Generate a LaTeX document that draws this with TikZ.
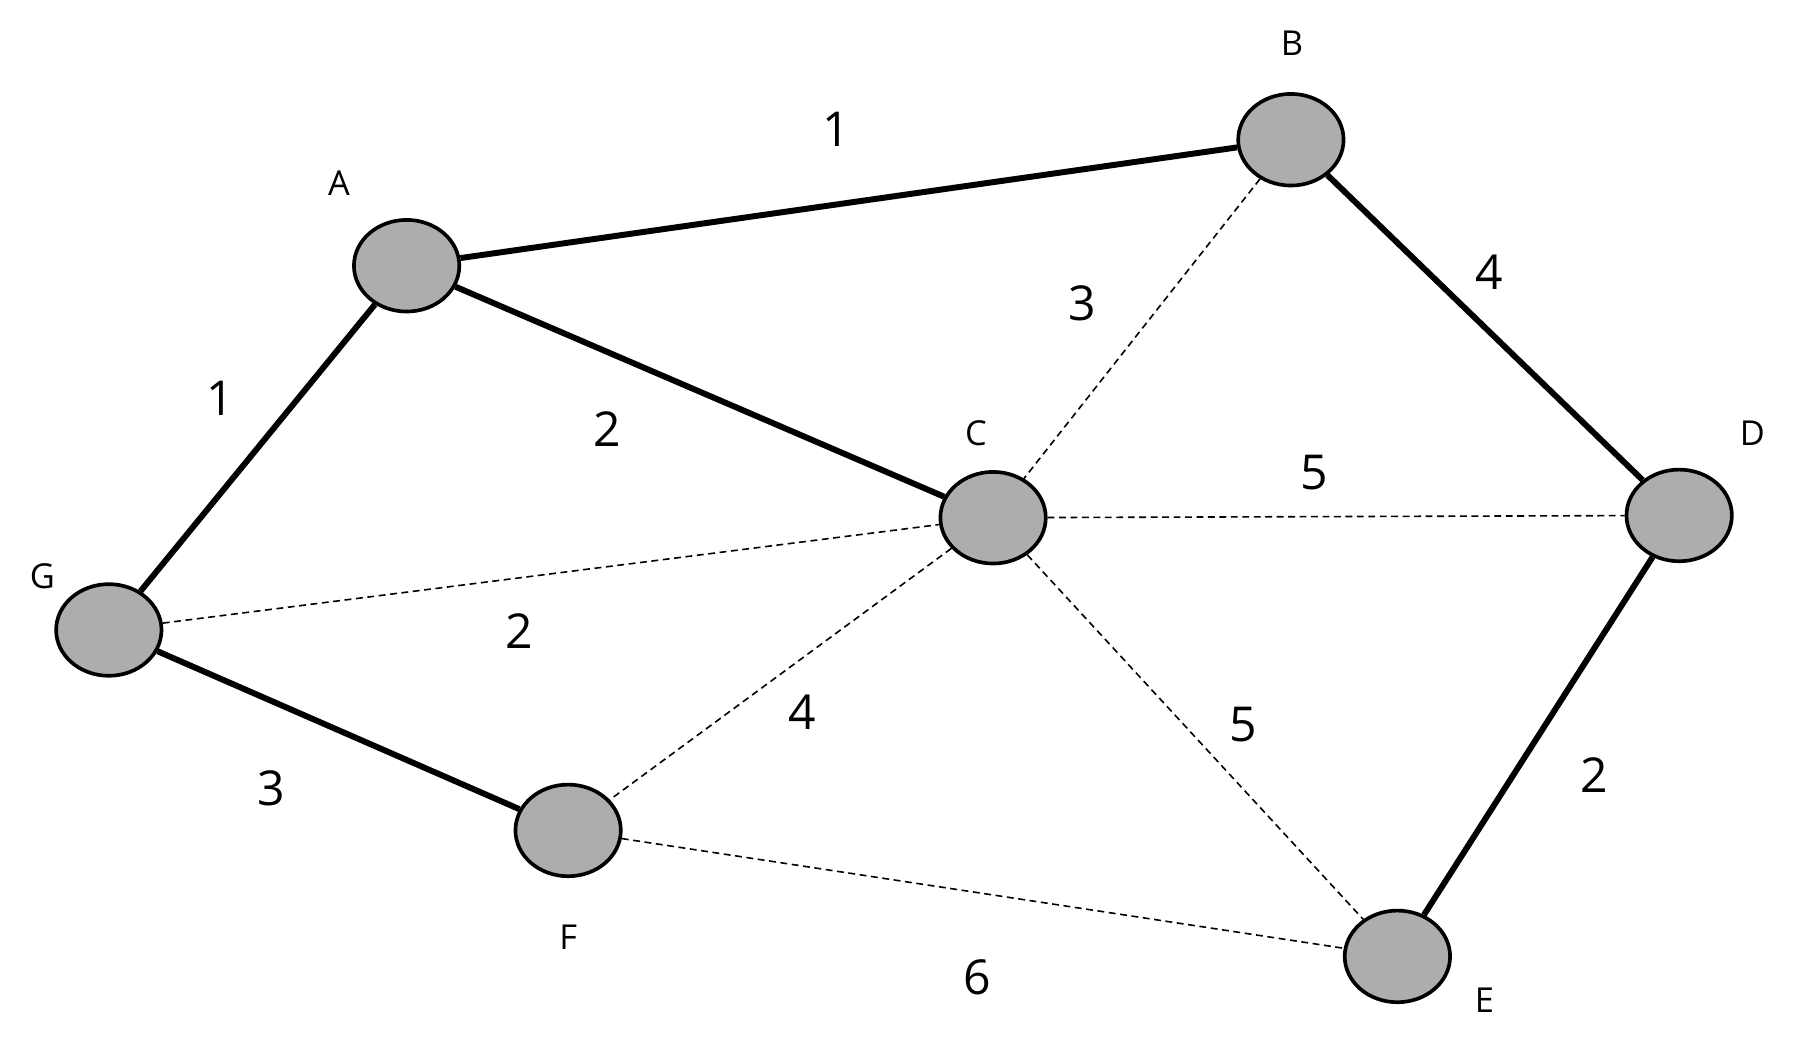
\documentclass[tikz,border=0pt]{standalone}
\usepackage{fontspec}
\setmainfont{Open Sans}
\usetikzlibrary{shapes.geometric}
\begin{document}
\begin{tikzpicture}[x=0.5pt,y=-0.5pt,
  v/.style={ellipse,draw=black,line width=1.6pt,fill=black!32,minimum width=46pt,minimum height=40pt,inner sep=0pt},
  lab/.style={font=\fontsize{15}{15}\selectfont},
  w/.style={font=\fontsize{21}{21}\selectfont},
  heavy/.style={line width=2.6pt},
  light/.style={line width=0.7pt,dash pattern=on 3pt off 2pt}]
\useasboundingbox (0,0) rectangle (1568,908);
\node[v] (A) at (355,232) {};
\node[v] (B) at (1127,122) {};
\node[v] (C) at (867,452) {};
\node[v] (D) at (1466,450) {};
\node[v] (E) at (1220,835) {};
\node[v] (F) at (496,725) {};
\node[v] (G) at (95,550) {};
\node[lab] (lA) at (296,160) {A};
\node[lab] (lB) at (1128,38) {B};
\node[lab] (lC) at (852,378) {C};
\node[lab] (lD) at (1530,378) {D};
\node[lab] (lE) at (1296,873) {E};
\node[lab] (lF) at (496,818) {F};
\node[lab] (lG) at (37,503) {G};
\draw[heavy] (A) -- (B);
\draw[heavy] (A) -- (G);
\draw[heavy] (A) -- (C);
\draw[heavy] (B) -- (D);
\draw[heavy] (G) -- (F);
\draw[heavy] (D) -- (E);
\draw[light] (B) -- (C);
\draw[light] (C) -- (D);
\draw[light] (G) -- (C);
\draw[light] (C) -- (F);
\draw[light] (C) -- (E);
\draw[light] (F) -- (E);
\node[w] (wAB) at (730,113) {1};
\node[w] (wAG) at (192,348) {1};
\node[w] (wAC) at (530,375) {2};
\node[w] (wBC) at (945,265) {3};
\node[w] (wBD) at (1300,238) {4};
\node[w] (wCD) at (1147,413) {5};
\node[w] (wGC) at (453,551) {2};
\node[w] (wCF) at (700,622) {4};
\node[w] (wCE) at (1085,633) {5};
\node[w] (wGF) at (237,688) {3};
\node[w] (wDE) at (1392,677) {2};
\node[w] (wFE) at (853,853) {6};
\end{tikzpicture}
\end{document}
